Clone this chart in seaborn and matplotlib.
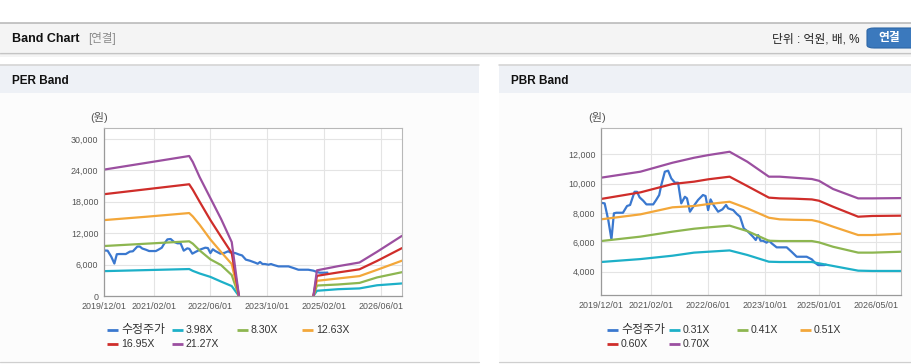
import numpy as np
import pandas as pd
import matplotlib
matplotlib.use("Agg")
import matplotlib.pyplot as plt
import seaborn as sns
from matplotlib.patches import Rectangle, FancyBboxPatch
from matplotlib.lines import Line2D
from matplotlib.ticker import FuncFormatter

# ---------------- data ----------------
price_dates = ['2019-12-01', '2020-01-01', '2020-02-01', '2020-02-28', '2020-03-20', '2020-04-10',
               '2020-06-05', '2020-07-10', '2020-08-05', '2020-09-12', '2020-10-03', '2020-10-25',
               '2020-11-25', '2020-12-22', '2021-02-18', '2021-03-15', '2021-04-10', '2021-04-28',
               '2021-05-28', '2021-06-25', '2021-07-22', '2021-08-22', '2021-09-18', '2021-10-15',
               '2021-11-15', '2021-12-03', '2021-12-28', '2022-01-25', '2022-03-07', '2022-04-18',
               '2022-05-10', '2022-06-01', '2022-06-22', '2022-07-12', '2022-08-25', '2022-10-01',
               '2022-11-01', '2022-11-18', '2023-01-01', '2023-02-01', '2023-02-28', '2023-04-01',
               '2023-05-07', '2023-06-18', '2023-07-12', '2023-08-01', '2023-08-22', '2023-09-12',
               '2023-10-12', '2023-11-03', '2023-11-25', '2024-01-06', '2024-04-01', '2024-05-12',
               '2024-06-25', '2024-09-18', '2024-11-01', '2024-11-28', '2024-12-25', '2025-02-15',
               '2025-03-01']
price_values = [8700, 8660, 7520, 6200, 7980, 8020,
                8020, 8480, 8550, 9450, 9450, 9070,
                8840, 8590, 8590, 8890, 9230, 9910,
                10820, 10890, 10360, 10070, 10070, 8660,
                9110, 9000, 8090, 8430, 8890, 9230,
                9160, 8200, 8930, 8610, 8090, 8250,
                8550, 8320, 8200, 7930, 7750, 6950,
                6730, 6390, 6160, 6500, 6110, 6110,
                5980, 6110, 5930, 5660, 5660, 5360,
                5020, 5020, 4840, 4610, 4450, 4450,
                4480]

# PER band (None = no band drawn)
per_band_dates = ['2019-12-01', '2020-12-01', '2021-12-01', '2022-01-01', '2022-03-01', '2022-06-01',
                  '2022-09-01', '2022-12-01', '2023-02-01', None, '2024-11-01', '2024-12-01',
                  '2025-06-01', '2025-12-01', '2026-05-01', '2026-12-01']
per_398 = [4750, 4950, 5150, 4800, 4300, 3650, 2750, 1900, 0, None, 0, 1000, 1300, 1450, 2050, 2400]
per_830 = [9550, 10000, 10450, 10000, 8700, 7000, 5900, 4000, 0, None, 0, 2000, 2200, 2500, 3550, 4550]
per_1263 = [14500, 15150, 15850, 15200, 13600, 10800, 8400, 6100, 0, None, 0, 2900, 3350, 3800, 5000, 6750]
per_1695 = [19450, 20400, 21350, 20300, 18000, 14500, 11300, 8200, 0, None, 0, 3850, 4500, 5100, 6700, 9150]
per_2127 = [24150, 25450, 26750, 25600, 22700, 18700, 14700, 10300, 0, None, 0, 4900, 5700, 6400, 8450, 11500]
per_labels = ['수정주가', '3.98X', '8.30X', '12.63X', '16.95X', '21.27X']
per_ticks = ['2019-12-01', '2021-02-01', '2022-06-01', '2023-10-01', '2025-02-01', '2026-06-01']

# PBR band
pbr_band_dates = ['2019-12-01', '2020-11-01', '2021-08-01', '2022-02-01', '2022-06-01', '2022-12-01',
                  '2023-05-01', '2023-11-01', '2024-02-01', '2024-06-01', '2024-11-01', '2025-01-01',
                  '2025-05-01', '2025-12-01', '2026-04-01', '2026-12-01']
pbr_031 = [4660, 4860, 5090, 5300, 5360, 5450, 5140, 4680, 4660, 4660, 4660, 4570, 4390, 4070, 4050, 4050]
pbr_041 = [6090, 6390, 6730, 6930, 7020, 7140, 6770, 6110, 6090, 6090, 6090, 6000, 5700, 5300, 5300, 5360]
pbr_051 = [7570, 7910, 8390, 8480, 8610, 8770, 8320, 7680, 7570, 7540, 7520, 7410, 7070, 6500, 6500, 6590]
pbr_060 = [8960, 9410, 9980, 10140, 10300, 10480, 9840, 9050, 9000, 8980, 8930, 8840, 8430, 7750, 7800, 7820]
pbr_070 = [10410, 10820, 11430, 11770, 11950, 12180, 11500, 10480, 10480, 10410, 10320, 10200, 9640, 9000, 9000, 9020]
pbr_labels = ['수정주가', '0.31X', '0.41X', '0.51X', '0.60X', '0.70X']
pbr_ticks = ['2019-12-01', '2021-02-01', '2022-06-01', '2023-10-01', '2025-01-01', '2026-05-01']

colors = ['#3a78cf', '#1db0c8', '#8db650', '#f3a73a', '#cf2d2a', '#9b4fa0']

# ---------------- style ----------------
sns.set_style("white")
plt.rcParams['font.family'] = ['Liberation Sans', 'Noto Sans CJK KR', 'DejaVu Sans']

W, H = 912, 364
fig = plt.figure(figsize=(W / 100, H / 100), dpi=100)
fig.patch.set_facecolor('white')


def fx(x):
    return x / W


def fy(y):
    return 1 - y / H


def rect(x0, y0, x1, y1, color, z=-5):
    fig.add_artist(Rectangle((fx(x0), fy(y1)), fx(x1) - fx(x0), fy(y0) - fy(y1),
                             transform=fig.transFigure, facecolor=color, edgecolor='none', zorder=z))


def hline(x0, x1, y, color, lw=1.0, z=-4):
    fig.add_artist(Line2D([fx(x0), fx(x1)], [fy(y), fy(y)], transform=fig.transFigure,
                          color=color, lw=lw * 0.72, zorder=z))


# header bar
rect(0, 23, W, 52.5, '#f4f4f4')
hline(0, W, 22.5, '#b8b8b8', 1.6)
hline(0, W, 52.8, '#c4c4c4', 1.2)
rect(0, 53.5, W, 55, '#e9e9e9')
rect(0, 55, W, 56.5, '#f4f4f4')
fig.text(fx(12), fy(38.5), 'Band Chart', fontsize=9, fontweight='bold', color='#111', va='center', ha='left')
fig.text(fx(88), fy(38.5), '[연결]', fontsize=8.3, color='#8a8a8a', va='center', ha='left')
fig.text(fx(860), fy(39), '단위 : 억원, 배, %', fontsize=8.5, color='#222', va='center', ha='right')
fig.add_artist(FancyBboxPatch((fx(867), fy(48)), fx(60), fy(28) - fy(48),
                              boxstyle='round,pad=0,rounding_size=0.008',
                              transform=fig.transFigure, facecolor='#3b79bd', edgecolor='#2d66a6',
                              lw=0.8, zorder=2))
fig.text(fx(889), fy(38.5), '연결', fontsize=8.5, fontweight='bold', color='white', va='center', ha='center', zorder=3)

# panels
for (x0, x1, title) in [(0, 479, 'PER Band'), (499, W, 'PBR Band')]:
    rect(x0, 64, x1, 364, '#fcfcfc')
    rect(x0, 65, x1, 92.5, '#eef1f6')
    hline(x0, x1, 64.5, '#d4d4d4', 1.6)
    hline(x0, x1, 362, '#cfcfcf', 1.2)
    fig.text(fx(x0 + 12), fy(80.5), title, fontsize=8.5, fontweight='bold', color='#111', va='center', ha='left')


def long_frame(price_d, price_v, band_d, bands, labels):
    rows = []
    for d, v in zip(price_d, price_v):
        rows.append((pd.Timestamp(d), v, labels[0], labels[0] + '_0'))
    for lab, vals in zip(labels[1:], bands):
        seg = 0
        for d, v in zip(band_d, vals):
            if d is None or v is None:
                seg += 1
                continue
            rows.append((pd.Timestamp(d), v, lab, f'{lab}_{seg}'))
    return pd.DataFrame(rows, columns=['date', 'value', 'series', 'unit'])


def draw(ax, df, labels, ticks, ylim, yticks):
    ax.set_facecolor('white')
    sns.lineplot(data=df, x='date', y='value', hue='series', units='unit', estimator=None,
                 hue_order=labels, palette=dict(zip(labels, colors)), linewidth=1.6,
                 sort=False, legend=False, ax=ax)
    ax.set_xlim(pd.Timestamp('2019-12-01'), pd.Timestamp('2026-12-01'))
    ax.set_ylim(*ylim)
    ax.set_yticks(yticks)
    ax.yaxis.set_major_formatter(FuncFormatter(lambda v, p: f'{int(v):,}'))
    ax.set_xticks([pd.Timestamp(t) for t in ticks])
    ax.set_xticklabels([t.replace('-', '/') for t in ticks])
    ax.set_xlabel('')
    ax.set_ylabel('')
    ax.grid(True, color='#e4e4e4', lw=0.8)
    ax.set_axisbelow(True)
    ax.tick_params(axis='both', length=0, pad=4, labelsize=6.4, labelcolor='#555')
    for s in ['top', 'right']:
        ax.spines[s].set_color('#b8b8b8')
        ax.spines[s].set_linewidth(0.8)
    for s in ['left', 'bottom']:
        ax.spines[s].set_color('#9a9a9a')
        ax.spines[s].set_linewidth(0.9)


def legend(col_x, labels):
    rows_y = [330, 344]
    for i, lab in enumerate(labels):
        r, c = divmod(i, 4)
        x0 = col_x[c]
        y = rows_y[r]
        fig.add_artist(Line2D([fx(x0), fx(x0 + 11)], [fy(y), fy(y)], transform=fig.transFigure,
                              color=colors[i], lw=2.0, solid_capstyle='butt'))
        size = 8.6 if i == 0 else 7.6
        fig.text(fx(x0 + 14), fy(y), lab, fontsize=size, color='#333', va='center', ha='left')


# PER chart
ax1 = fig.add_axes([fx(104), fy(296), fx(402) - fx(104), fy(128) - fy(296)])
df1 = long_frame(price_dates, price_values, per_band_dates,
                 [per_398, per_830, per_1263, per_1695, per_2127], per_labels)
draw(ax1, df1, per_labels, per_ticks, (0, 32100), [0, 6000, 12000, 18000, 24000, 30000])
fig.text(fx(99), fy(118), '(원)', fontsize=8, color='#555', va='center', ha='center')
legend([107, 172, 237, 302], per_labels)

# PBR chart
ax2 = fig.add_axes([fx(601), fy(295), fx(901) - fx(601), fy(128) - fy(295)])
df2 = long_frame(price_dates, price_values, pbr_band_dates,
                 [pbr_031, pbr_041, pbr_051, pbr_060, pbr_070], pbr_labels)
draw(ax2, df2, pbr_labels, pbr_ticks, (2410, 13800), [4000, 6000, 8000, 10000, 12000])
fig.text(fx(597), fy(118), '(원)', fontsize=8, color='#555', va='center', ha='center')
legend([607, 669, 737, 800], pbr_labels)

fig.savefig('out.png', dpi=100, facecolor='white')
